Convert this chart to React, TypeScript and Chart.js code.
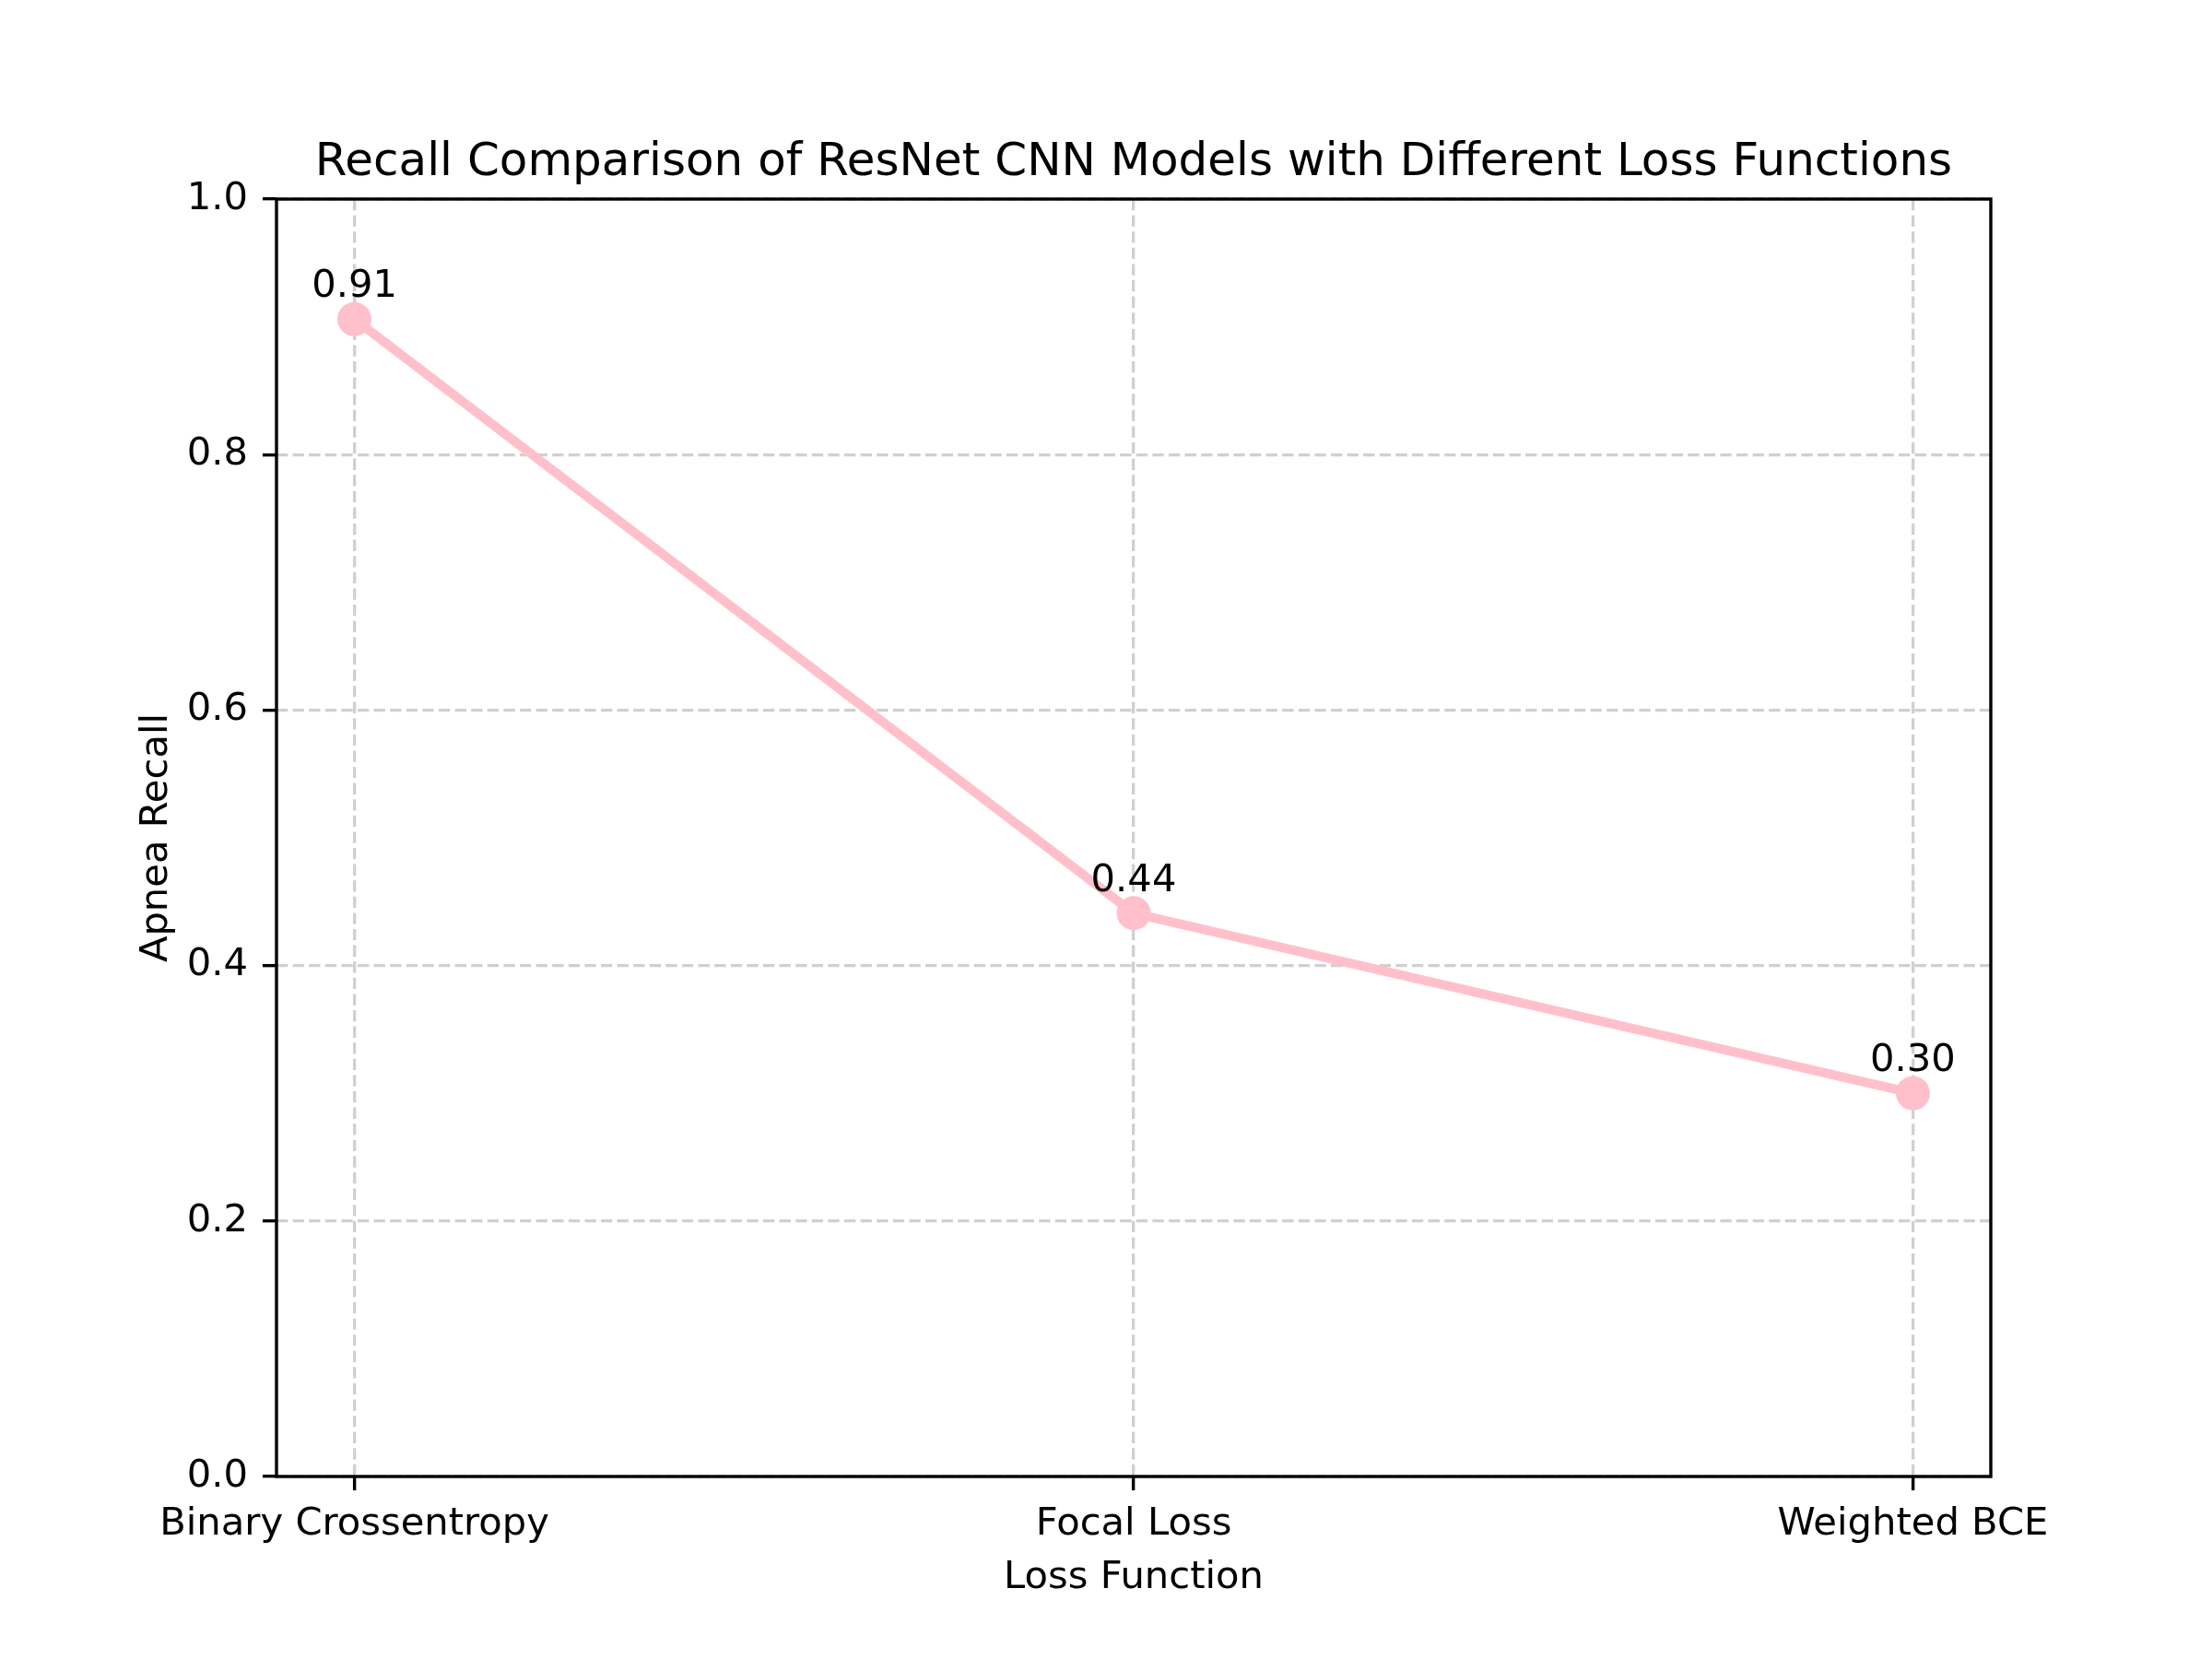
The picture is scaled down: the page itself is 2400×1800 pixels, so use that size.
import React, { useEffect, useRef } from "react";
import { Chart, registerables } from "chart.js";

Chart.register(...registerables);

const categories = ["Binary Crossentropy", "Focal Loss", "Weighted BCE"];
const recallValues = [0.906, 0.441, 0.3];
const yTicks = [0, 0.2, 0.4, 0.6, 0.8, 1.0];

const chartTitle = "Recall Comparison of ResNet CNN Models with Different Loss Functions";
const xTitle = "Loss Function";
const yTitle = "Apnea Recall";

const FONT = "'DejaVu Sans', sans-serif";
const FS = 41.7;

export default function App() {
  const ref = useRef<HTMLCanvasElement | null>(null);

  useEffect(() => {
    const canvas = ref.current;
    if (!canvas) return;

    const frame = {
      id: "frame",
      afterDatasetsDraw(chart: any) {
        const { ctx, chartArea } = chart;
        ctx.save();
        ctx.strokeStyle = "#000";
        ctx.lineWidth = 3.4;
        ctx.strokeRect(chartArea.left, chartArea.top, chartArea.right - chartArea.left, chartArea.bottom - chartArea.top);
        ctx.restore();
      },
    };

    const valueLabels = {
      id: "valueLabels",
      afterDatasetsDraw(chart: any) {
        const { ctx } = chart;
        const xs = chart.scales.x;
        const ys = chart.scales.y;
        ctx.save();
        ctx.fillStyle = "#000";
        ctx.font = `${FS}px ${FONT}`;
        ctx.textAlign = "center";
        ctx.textBaseline = "alphabetic";
        recallValues.forEach((v, i) => {
          const px = xs.getPixelForValue(i);
          const py = ys.getPixelForValue(v);
          ctx.fillText(v.toFixed(2), px, py - 24);
        });
        ctx.restore();
      },
    };

    const gridOpts = {
      color: "rgba(176,176,176,0.6)",
      lineWidth: 3.3,
      tickColor: "#000",
      tickWidth: 3.4,
      tickLength: 15,
      tickBorderDash: [],
    };

    const chart = new Chart(canvas, {
      type: "line",
      data: {
        datasets: [
          {
            data: recallValues.map((v, i) => ({ x: i, y: v })),
            borderColor: "#ffc0cb",
            backgroundColor: "#ffc0cb",
            pointBackgroundColor: "#ffc0cb",
            pointBorderColor: "#ffc0cb",
            borderWidth: 10,
            pointRadius: 18.5,
            pointBorderWidth: 0,
            tension: 0,
          },
        ],
      },
      options: {
        animation: false,
        responsive: false,
        devicePixelRatio: 1,
        layout: { padding: { top: 0, left: 0, right: 240, bottom: 0 } },
        plugins: {
          legend: { display: false },
          tooltip: { enabled: false },
          title: {
            display: true,
            text: chartTitle,
            fullSize: false,
            color: "#000",
            font: { family: FONT, size: 50, weight: "normal" },
            padding: { top: 147.5, bottom: 8.5 },
          },
        },
        scales: {
          x: {
            type: "linear",
            min: -0.1,
            max: 2.1,
            afterBuildTicks: (scale: any) => {
              scale.ticks = categories.map((_, i) => ({ value: i }));
            },
            afterFit: (scale: any) => {
              scale.height = 198;
            },
            ticks: {
              callback: (v: any) => categories[v] ?? "",
              color: "#000",
              font: { family: FONT, size: FS },
              padding: 12,
              maxRotation: 0,
              autoSkip: false,
            },
            grid: gridOpts,
            border: { display: false, dash: [12.3, 5.3] },
            title: {
              display: true,
              text: xTitle,
              color: "#000",
              font: { family: FONT, size: FS },
              padding: { top: 0, bottom: 63 },
            },
          },
          y: {
            type: "linear",
            min: 0,
            max: 1,
            afterBuildTicks: (scale: any) => {
              scale.ticks = yTicks.map((v) => ({ value: v }));
            },
            afterFit: (scale: any) => {
              scale.width = 300;
            },
            ticks: {
              callback: (v: any) => Number(v).toFixed(1),
              color: "#000",
              font: { family: FONT, size: FS },
              padding: 16,
            },
            grid: gridOpts,
            border: { display: false, dash: [12.3, 5.3] },
            title: {
              display: true,
              text: yTitle,
              color: "#000",
              font: { family: FONT, size: FS },
              padding: { top: 145.6, bottom: 0 },
            },
          },
        },
      },
      plugins: [frame, valueLabels],
    } as any);

    return () => chart.destroy();
  }, []);

  return (
    <div style={{ position: "absolute", left: 0, top: 0, width: 2400, height: 1800, background: "#fff" }}>
      <canvas ref={ref} width={2400} height={1800} style={{ width: 2400, height: 1800, display: "block" }} />
    </div>
  );
}
